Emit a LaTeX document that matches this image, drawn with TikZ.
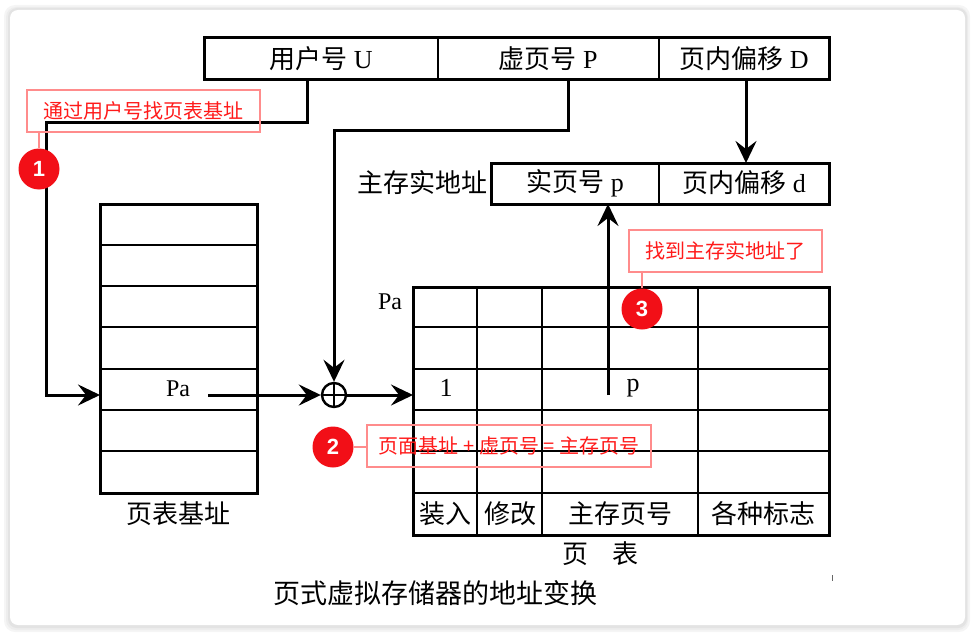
\documentclass[tikz,border=0pt]{standalone}
\usepackage{fontspec}
\setmainfont{Liberation Serif}
\setsansfont{Liberation Sans}
\newfontfamily\cjk{Noto Sans CJK SC}
\usetikzlibrary{arrows.meta,calc}
\definecolor{badgered}{HTML}{F20F17}
\definecolor{calloutpink}{HTML}{FF8C8C}
\definecolor{callouttext}{HTML}{FF1A1A}
\tikzset{
  lbl/.style={inner sep=0pt, font=\fontsize{26}{30}\selectfont},
  small/.style={inner sep=0pt, font=\fontsize{24}{27}\selectfont},
  thickframe/.style={line width=3pt},
  gridline/.style={line width=1.2pt},
  conn/.style={line width=3pt, -{Stealth[length=22pt,width=21pt,inset=8pt]}},
  callout/.style={draw=calloutpink, line width=1.6pt},
  callouttxt/.style={inner sep=0pt, text=callouttext, font=\cjk\fontsize{20}{23}\selectfont},
  badge/.style={circle, fill=badgered, text=white, minimum size=41pt, inner sep=0pt,
    font=\sffamily\bfseries\fontsize{22}{24}\selectfont},
  leader/.style={draw=calloutpink, line width=1.4pt}
}
\begin{document}
\begin{tikzpicture}[x=1pt,y=-1pt]
\useasboundingbox (0,0) rectangle (974,634);
% outer frame with soft shadow
\fill[black!4, rounded corners=11pt] (4,5) rectangle (970,632);
\fill[black!7, rounded corners=10pt] (6,7) rectangle (968,630);
\fill[black!11, rounded corners=9pt] (8,8) rectangle (967,628);
\fill[white, rounded corners=8pt] (10,10) rectangle (965,625);

% ---------- virtual address register ----------
\draw[thickframe] (204,38) rectangle (829,79);
\draw[gridline] (438,38) -- (438,79);
\draw[gridline] (659,38) -- (659,79);
\node[lbl] (U) at (321,59) {{\cjk 用户号} U};
\node[lbl] (P) at (548,59) {{\cjk 虚页号} P};
\node[lbl] (D) at (744,59) {{\cjk 页内偏移} D};

% ---------- physical address register ----------
\draw[thickframe] (491,163) rectangle (829,204);
\draw[gridline] (659,163) -- (659,204);
\node[lbl] (rp) at (575,183) {{\cjk 实页号} p};
\node[lbl] (rd) at (744,183) {{\cjk 页内偏移} d};
\node[lbl, anchor=east] (mainaddr) at (488,183) {\cjk 主存实地址};

% ---------- page table base register table ----------
\draw[thickframe] (100,204) rectangle (257,493);
\foreach \y in {245,286,327,369,410,451} \draw[gridline] (100,\y) -- (257,\y);
\node[small] (Pa1) at (178,389) {Pa};
\node[lbl] (baselbl) at (178,514) {\cjk 页表基址};

% ---------- page table ----------
\draw[thickframe] (413,287) rectangle (829,535);
\foreach \y in {327,369,410,451,493} \draw[gridline] (413,\y) -- (829,\y);
\foreach \x in {477,542,698} \draw[gridline] (\x,287) -- (\x,535);
\node[small] (Pa2) at (390,302) {Pa};
\node[lbl] (one) at (446,388) {1};
\node[lbl] (pp) at (633,388) {p};
\node[lbl] (h1) at (445,514) {\cjk 装入};
\node[lbl] (h2) at (510,514) {\cjk 修改};
\node[lbl] (h3) at (620,514) {\cjk 主存页号};
\node[lbl] (h4) at (763,514) {\cjk 各种标志};
\node[lbl] (pt1) at (575,554) {\cjk 页};
\node[lbl] (pt2) at (625,554) {\cjk 表};

% caption
\node[lbl, font=\cjk\fontsize{27}{30}\selectfont] (caption) at (435,593) {页式虚拟存储器的地址变换};

% ---------- adder ----------
\node[circle, draw, line width=2.4pt, minimum size=24pt, inner sep=0pt] (plus) at (334,395) {};
\draw[line width=2.4pt] (plus.north) -- (plus.south) (plus.west) -- (plus.east);

% ---------- connectors ----------
\coordinate (Ubot) at (307,79);
\coordinate (Ubend) at (46,122);
\coordinate (tPa) at (100,395);
\draw[conn] (Ubot) |- (Ubend) |- (tPa);

\coordinate (Pbot) at (568,79);
\coordinate (Pbend) at (334,130);
\draw[conn] (Pbot) |- (Pbend) -- (plus.north);

\coordinate (PaStart) at (208,395);
\draw[conn] (PaStart) -- (plus.west);

\coordinate (ptIn) at (413,395);
\draw[conn] (plus.east) -- (ptIn);

\coordinate (pStart) at (608,395);
\coordinate (rpBot) at (608,204);
\draw[conn] (pStart) -- (rpBot);

\coordinate (Dbot) at (746,79);
\coordinate (rdTop) at (746,163);
\draw[conn] (Dbot) -- (rdTop);

% ---------- callouts ----------
\draw[callout] (27,90) rectangle (260,132);
\node[callouttxt] (c1) at (143,111) {通过用户号找页表基址};
\node[badge] (b1) at (39,169) {1};
\draw[leader] (b1.north) -- (39,132);

\draw[callout] (367,425) rectangle (651,467);
\node[callouttxt] (c2) at (509,446) {页面基址 + 虚页号 = 主存页号};
\node[badge] (b2) at (333,447) {2};
\draw[leader] (b2.east) -- (367,447);

\draw[callout] (629,230) rectangle (822,272);
\node[callouttxt] (c3) at (725,251) {找到主存实地址了};
\node[badge] (b3) at (642,309) {3};
\draw[leader] (b3.north) -- (642,272);

% small mark
\draw[black!60, line width=0.8pt] (832,575) -- (832,581);
\end{tikzpicture}
\end{document}
